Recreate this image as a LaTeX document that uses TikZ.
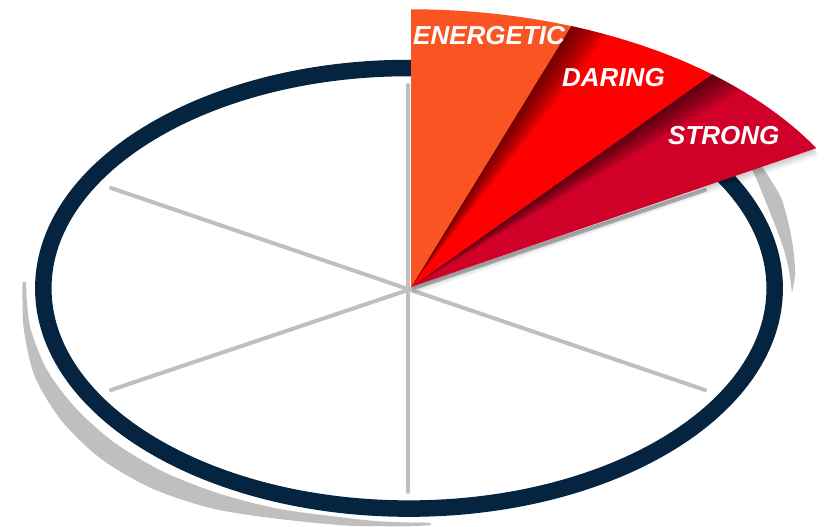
\documentclass[tikz,border=0pt]{standalone}
\usepackage{fontspec}
\setmainfont{Liberation Sans}
\usetikzlibrary{calc}
\definecolor{navy}{RGB}{4,36,63}
\definecolor{spokegray}{RGB}{191,191,191}
\definecolor{shadowgray}{RGB}{191,191,191}
\definecolor{wedgeorange}{RGB}{250,84,34}
\definecolor{wedgered}{RGB}{255,0,0}
\definecolor{wedgecrimson}{RGB}{209,0,40}
\begin{document}
\begin{tikzpicture}[x=1pt,y=1pt,
  spokeline/.style={spokegray,line width=4pt,line cap=round},
  ringline/.style={navy,line width=16.5pt},
  wlabel/.style={text=white,font=\fontsize{26}{26}\selectfont\bfseries\itshape,inner sep=0pt,anchor=base west},
  earc/.style={x radius=468pt,y radius=277.7pt},
  edgeshade/.style={black,opacity=0.085}]
\useasboundingbox (0,-527) rectangle (825,0);
\coordinate (W) at (411,-287);
\coordinate (E) at (409,-288.3);
% ring shadows (crescents)
\fill[shadowgray] plot[smooth] coordinates {(22.6,-281.8) (22.5,-300) (24.1,-331.5) (35,-377) (61.7,-420.9) (101.5,-459.2) (152.8,-488.8) (212.3,-508.5) (276.8,-518.7) (342.3,-525.3) (375.7,-526.1) (409,-526.3) (432,-525)}
  -- plot[smooth] coordinates {(428.9,-522.7) (409,-522.5) (376,-521.1) (343.2,-517.5) (279,-508.9) (218,-493.2) (162.1,-471.1) (114,-442.3) (75.6,-408) (47.1,-370) (30.8,-329.6) (26.8,-300) (26.2,-281.8)} -- cycle;
\fill[shadowgray] plot[smooth] coordinates {(748,-148) (763,-168) (772,-182) (782,-200) (790,-230) (794,-255) (795,-275) (792,-293)}
  -- plot[smooth] coordinates {(789,-270) (784,-250) (777,-230) (765,-200) (752,-170) (735,-150)} -- cycle;
% ring
\draw[ringline] (E) ellipse[x radius=365.7pt,y radius=220.3pt];
% spokes
\coordinate (sT) at (408,-85);
\coordinate (sB) at (408,-492);
\coordinate (sUL) at (111,-188);
\coordinate (sLR) at (705,-390);
\coordinate (sLL) at (111,-390);
\coordinate (sUR) at (705,-190);
\draw[spokeline] (sT) -- (sB);
\draw[spokeline] (sUL) -- (sLR);
\draw[spokeline] (sLL) -- (sUR);
% soft drop shadow of the wedges
\foreach \k in {1,...,6}
  \fill[black,opacity=0.035] ($(W)+(0.3*\k,-1.3*\k)$) -- ++(90:468pt and 277.7pt) arc[earc,start angle=90,end angle=30] -- cycle;
% wedges
\fill[wedgecrimson] (W) -- ($(W)+(50:468pt and 277.7pt)$) arc[earc,start angle=50,end angle=30] -- cycle;
\foreach \k in {1,...,8}
  \fill[edgeshade] (W) -- ($(W)+(50:468pt and 277.7pt)$) arc[earc,start angle=50,end angle={50-0.6*\k}] -- cycle;
\fill[wedgered] (W) -- ($(W)+(70:468pt and 277.7pt)$) arc[earc,start angle=70,end angle=50] -- cycle;
\foreach \k in {1,...,8}
  \fill[edgeshade] (W) -- ($(W)+(70:468pt and 277.7pt)$) arc[earc,start angle=70,end angle={70-0.6*\k}] -- cycle;
\fill[wedgeorange] (W) -- ($(W)+(90:468pt and 277.7pt)$) arc[earc,start angle=90,end angle=70] -- cycle;
% labels
\node[wlabel] (energetic) at (413,-45) {ENERGETIC};
\node[wlabel] (daring) at (562,-87) {DARING};
\node[wlabel] (strong) at (668,-144) {STRONG};
\end{tikzpicture}
\end{document}
